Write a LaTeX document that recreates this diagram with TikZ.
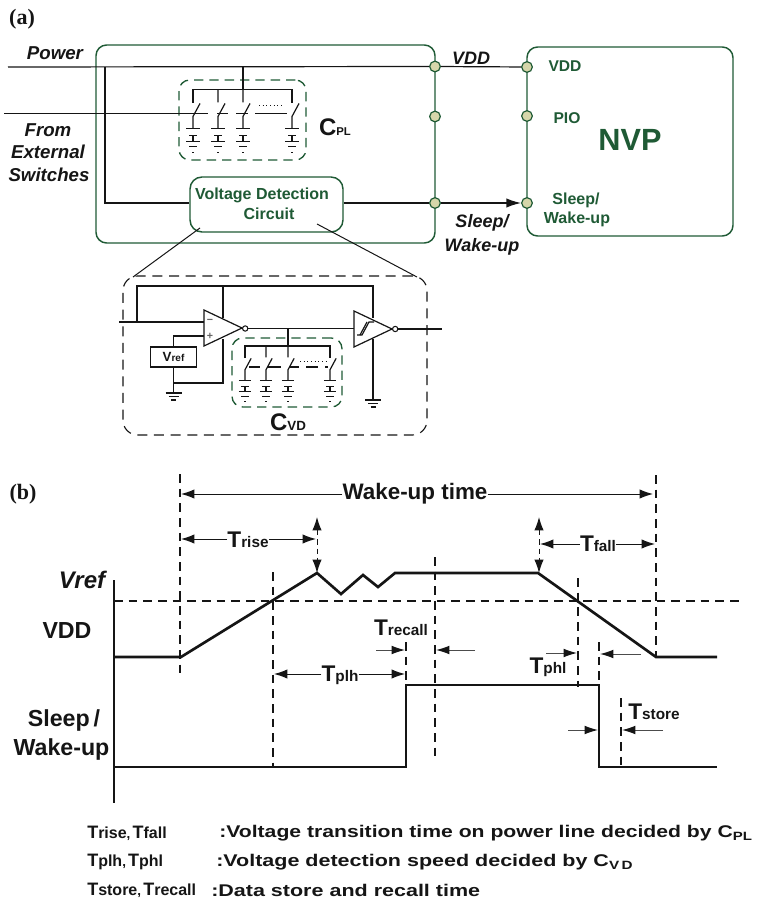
\documentclass[tikz,border=0pt]{standalone}
\usepackage{fontspec}
\usepackage{graphicx}
\setmainfont{Liberation Serif}
\setsansfont{Liberation Sans}
\usetikzlibrary{arrows.meta}
\definecolor{dgreen}{HTML}{1F5A35}
\definecolor{dotfill}{HTML}{D6D6AA}
\definecolor{ink}{HTML}{151515}
\newcommand\fsz[1]{\fontsize{#1}{#1}\selectfont}
\newcommand\TT[2][17]{{\fsz{#1}T}{\fsz{11.5}#2}}
\newcommand\TTs[1]{{\fsz{13.5}T}{\fsz{12}#1}}
\newcommand\lowsub[1]{\raisebox{-2pt}{\fsz{9}#1}}
\newcommand\wide[1]{\scalebox{1.27}[1]{#1}}
\newcommand\widea[1]{\scalebox{1.25}[1]{#1}}
% switch + capacitor stack: x, comb y, scale
\newcommand\swcell[3]{%
  \draw[wire] (#1,#2) -- ++(0,{13*#3}) ++({7*#3},{1*#3}) -- ++({-7*#3},{13*#3}) -- ++(0,{12*#3});
  \draw[wire] ({#1-7*#3},{#2+39*#3}) -- ({#1+7*#3},{#2+39*#3});
  \draw[wire] ({#1-4*#3},{#2+46*#3}) -- ({#1+4*#3},{#2+46*#3});
  \draw[wire] (#1,{#2+46*#3}) -- (#1,{#2+52*#3});
  \draw[wire] ({#1-7*#3},{#2+52*#3}) -- ({#1+7*#3},{#2+52*#3});
  \draw[wire] ({#1-4*#3},{#2+57*#3}) -- ({#1+4*#3},{#2+57*#3});
  \draw[wire] ({#1-1*#3},{#2+63*#3}) -- ({#1+1*#3},{#2+63*#3});
}
\newcommand\gnd[2]{%
  \draw[wire] (#1-8,#2) -- (#1+8,#2);
  \draw[wire] (#1-5,#2+3.5) -- (#1+5,#2+3.5);
  \draw[wire] (#1-2.5,#2+7) -- (#1+2.5,#2+7);
}
\tikzset{
  x=0.75pt,y=-0.75pt,
  wire/.style={draw=ink,line width=0.9pt},
  thinw/.style={draw=ink,line width=0.75pt},
  heavy/.style={draw=ink,line width=2pt,line join=miter},
  grayw/.style={draw=black!70,line width=0.75pt},
  gbox/.style={draw=dgreen,line width=1.1pt,rounded corners=8pt,inner sep=0pt},
  gdash/.style={draw=dgreen,line width=1pt,rounded corners=8pt,dash pattern=on 7pt off 4.5pt,inner sep=0pt},
  kdash/.style={draw=ink,line width=0.8pt,dash pattern=on 6.5pt off 4.5pt},
  port/.style={circle,draw=dgreen,fill=dotfill,line width=0.9pt,minimum size=8pt,inner sep=0pt},
  lab/.style={font=\sffamily\bfseries,text=ink,inner sep=0pt},
  glab/.style={font=\sffamily\bfseries,text=dgreen,inner sep=0pt},
  ilab/.style={font=\sffamily\bfseries\itshape,text=ink,inner sep=0pt},
  arr/.style={thinw,-{Latex[length=10pt,width=7pt]}},
  garr/.style={grayw,-{Latex[length=10pt,width=6.5pt,color=ink]}},
  garrb/.style={thinw,{Latex[length=10pt,width=7pt]}-{Latex[length=10pt,width=7pt]},dash pattern=on 4pt off 3pt},
}
\begin{document}
\begin{tikzpicture}
\useasboundingbox (0,0) rectangle (758,902);
% ---------- (a)
\node[font=\rmfamily\bfseries\fsz{16.5},text=ink,inner sep=0pt] (tagA) at (22,19) {(a)};
\node[gbox,minimum width=254.25pt,minimum height=148.5pt] (main) at (265.5,144) {};
\node[gbox,minimum width=154.5pt,minimum height=141.75pt] (nvp) at (630,141.5) {};
\node[gbox,minimum width=114.75pt,minimum height=41.25pt,rounded corners=9pt,fill=white] (vd) at (266.5,204.5) {};
\node[glab,font=\sffamily\bfseries\fsz{12}] (vdA) at (262,195) {Voltage Detection};
\node[glab,font=\sffamily\bfseries\fsz{12}] (vdB) at (269,213.5) {Circuit};
\node[gdash,minimum width=95.25pt,minimum height=60pt] (cpl) at (242.5,120) {};
% ports
\node[port] (pL1) at (435,66.5) {};
\node[port] (pL2) at (435,116.5) {};
\node[port] (pL3) at (435,203) {};
\node[port] (pR1) at (527,67) {};
\node[port] (pR2) at (527,116) {};
\node[port] (pR3) at (527,203) {};
% wires
\coordinate (pwrIn) at (8,67);
\coordinate (tap) at (105,67);
\coordinate (tapB) at (105,203);
\coordinate (tapC) at (243,67);
\draw[wire] (pwrIn) -- (pL1) -- (pR1);
\draw[wire] (tap) -- (tapB) -- (vd.west |- tapB);
\draw[wire] (vd.east |- pL3) -- (pL3);
\draw[wire,line width=1pt,-{Latex[length=11pt,width=7pt]}] (pL3) -- (pR3);
% C_PL
\draw[wire] (tapC) -- (243,89.5);
\draw[wire] (193,103) -- (193,89.5) -- (292,89.5) -- (292,103);
\foreach \xx in {193,218,243,292} {\swcell{\xx}{89.5}{1}}
\draw[wire] (4,113.5) -- (208,113.5);
\draw[wire] (217,113.5) -- (228,113.5);
\draw[wire] (236,113.5) -- (248,113.5);
\draw[wire] (255,113.5) -- (287,113.5);
\draw[thinw,dotted] (259,106) -- (283,106);
% texts (a)
\node[ilab,font=\sffamily\bfseries\itshape\fsz{14}] (tPower) at (55,53) {Power};
\node[ilab,font=\sffamily\bfseries\itshape\fsz{14}] (tFrom) at (48,130) {From};
\node[ilab,font=\sffamily\bfseries\itshape\fsz{14}] (tExt) at (48,152) {External};
\node[ilab,font=\sffamily\bfseries\itshape\fsz{14}] (tSw) at (49,175) {Switches};
\node[lab] (tCPL) at (335,127) {{\fsz{18}C}{\fsz{8.5}PL}};
\node[ilab,font=\sffamily\bfseries\itshape\fsz{13.5}] (tVDD) at (471,58) {VDD};
\node[ilab,font=\sffamily\bfseries\itshape\fsz{13.5}] (tSl) at (482,223) {Sleep/};
\node[ilab,font=\sffamily\bfseries\itshape\fsz{13.5}] (tWk) at (482,247) {Wake-up};
\node[glab,font=\sffamily\bfseries\fsz{11.7}] (nV) at (565,66) {VDD};
\node[glab,font=\sffamily\bfseries\fsz{11.7}] (nP) at (567,118) {PIO};
\node[glab,font=\sffamily\bfseries\fsz{23}] (nN) at (630,140) {NVP};
\node[glab,font=\sffamily\bfseries\fsz{12}] (nS) at (576,200) {Sleep/};
\node[glab,font=\sffamily\bfseries\fsz{12}] (nW) at (577,219) {Wake-up};
% zoom box
\node[draw=ink,line width=0.85pt,rounded corners=11pt,dash pattern=on 7.5pt off 5pt,inner sep=0pt,minimum width=228pt,minimum height=119.25pt] (zoomb) at (275,355.5) {};
\coordinate (zA) at (200,228);
\coordinate (zB) at (133,277);
\coordinate (zC) at (317,224);
\coordinate (zD) at (417,277);
\draw[thinw] (zA) -- (zB);
\draw[thinw] (zC) -- (zD);
% comparator
\coordinate (inL) at (119,322);
\coordinate (opI) at (204,322);
\draw[wire] (137,322) -- (137,286) -- (373,286) -- (373,318);
\draw[wire] (223,286) -- (223,318);
\draw[wire] (inL) -- (opI);
\node[draw=ink,line width=1pt,minimum width=34.5pt,minimum height=15pt,inner sep=0pt] (vref) at (173.5,357) {};
\node[lab] (tVref) at (173.5,356.5) {{\fsz{10}V}{\fsz{7.5}ref}};
\coordinate (plusin) at (204,336);
\draw[wire] (vref.north) -- (vref.north |- plusin) -- (plusin);
\draw[wire] (vref.south) -- (173.5,393);
\draw[wire] (173.5,383) -- (223,383) -- (223,339);
\gnd{173.5}{393}
\draw[wire,fill=white] (204,310) -- (242,328) -- (204,346) -- cycle;
\node[circle,draw=ink,line width=0.8pt,minimum size=4pt,inner sep=0pt,fill=white] (b1) at (245.2,328.5) {};
\node[text=black!60,inner sep=0pt,font=\sffamily\bfseries\fsz{8}] (minus) at (210,321.5) {−};
\node[text=black!60,inner sep=0pt,font=\sffamily\bfseries\fsz{8}] (plus) at (210,336) {+};
\draw[wire,fill=white] (354,311) -- (392,329) -- (354,347) -- cycle;
\draw[wire] (357,335) -- (362,335) -- (369,322) -- (374,322);
\draw[wire] (360,335) -- (367,322);
\node[circle,draw=ink,line width=0.8pt,minimum size=4pt,inner sep=0pt,fill=white] (b2) at (395.2,329) {};
\coordinate (sch2) at (354,328.5);
\coordinate (outR) at (442,329);
\draw[wire] (b1) -- (sch2);
\draw[wire] (b2) -- (outR);
\draw[wire] (373,339) -- (373,400);
\gnd{373}{400}
% C_VD
\node[gdash,minimum width=82.5pt,minimum height=51.75pt] (cvd) at (287,372.5) {};
\draw[wire] (288,328.5) -- (288,346);
\draw[wire] (245,358) -- (245,346) -- (330,346) -- (330,358);
\foreach \xx in {245,266,288,330} {\swcell{\xx}{346}{0.88}}
\draw[wire] (249,367) -- (260,367);
\draw[wire] (268,367) -- (281,367);
\draw[wire] (290,367) -- (299,367);
\draw[wire] (306,367) -- (318,367);
\draw[wire] (325,367) -- (328,367);
\draw[thinw,dotted] (300,361) -- (326,361);
\node[lab] (tCVD) at (288,422) {{\fsz{18}C}{\fsz{10}VD}};
% ---------- (b)
\node[font=\rmfamily\bfseries\fsz{16.5},text=ink,inner sep=0pt] (tagB) at (23,494) {(b)};
\coordinate (ax0) at (114,580);
\coordinate (ax1) at (114,803);
\draw[wire] (ax0) -- (ax1);
% dashed guides
\draw[kdash] (114,601) -- (742,601);
\draw[kdash] (180,474) -- (180,674);
\draw[kdash] (273,572) -- (273,767);
\draw[kdash] (435,557) -- (435,762);
\draw[kdash] (578,578) -- (578,687);
\draw[kdash] (656,475) -- (656,657);
\draw[kdash] (406,642) -- (406,685);
\draw[kdash] (599,642) -- (599,685);
\draw[kdash] (621,698) -- (621,767);
% waveforms
\coordinate (vS) at (114,657);
\coordinate (vE) at (717,657);
\draw[heavy] (vS) -- (181,657) -- (317,573) -- (341,594) -- (363,575) -- (378,587) -- (395,573) -- (538,573) -- (656,657) -- (vE);
\coordinate (sS) at (114,767);
\coordinate (sE) at (717,767);
\draw[heavy] (sS) -- (406,767) -- (406,685) -- (599,685) -- (599,767) -- (sE);
% double arrows on peaks
\coordinate (pk1t) at (317,517);
\coordinate (pk1b) at (317,573);
\coordinate (pk2t) at (539,517);
\coordinate (pk2b) at (539,573);
\draw[garrb] (pk1t) -- (pk1b);
\draw[garrb] (pk2t) -- (pk2b);
% labels (b)
\node[ilab,font=\sffamily\bfseries\itshape\fsz{18}] (bVref) at (82,580) {Vref};
\node[lab,font=\sffamily\bfseries\fsz{17.4}] (bVDD) at (67,631) {VDD};
\node[lab,font=\sffamily\bfseries\fsz{17.4}] (bSl) at (64,720) {Sleep\,/};
\node[lab,font=\sffamily\bfseries\fsz{17.4}] (bWk) at (61.5,749) {Wake-up};
\node[lab,font=\sffamily\bfseries\fsz{16.8}] (wake) at (415,494) {Wake-up time};
\node[lab] (trise) at (248,540) {\TT{rise}};
\node[lab] (tfall) at (598,544) {\TT{fall}};
\node[lab] (tplh) at (340,675) {\TT{plh}};
\node[lab] (trecall) at (401,628) {\TT{recall}};
\node[lab] (tphl) at (548,667) {\TT{phl}};
\node[lab] (tstore) at (654,712) {\TT{store}};
\coordinate (wL) at (181,494); \coordinate (wR) at (653,494);
\draw[arr] (wake.west) -- (wL);
\draw[arr] (wake.east) -- (wR);
\coordinate (rL) at (181,539); \coordinate (rR) at (316,539);
\draw[arr] (trise.west |- rL) -- (rL);
\draw[arr] (trise.east |- rR) -- (rR);
\coordinate (fL) at (540,544); \coordinate (fR) at (655,544);
\draw[arr] (tfall.west) -- (fL);
\draw[arr] (tfall.east) -- (fR);
\coordinate (pL) at (274,674); \coordinate (pR) at (405,674);
\draw[arr] (tplh.west |- pL) -- (pL);
\draw[arr] (tplh.east |- pR) -- (pR);
\draw[garr] (376,650) -- (405,650);
\draw[garr] (475,650) -- (436,650);
\draw[garr] (546,653) -- (577,653);
\draw[garr] (641,654) -- (600,654);
\draw[garr] (568,730) -- (598,730);
\draw[garr] (663,730) -- (622,730);
% legend
\node[lab,anchor=west] (l1a) at (87,833) {\TTs{rise},\,\TTs{fall}};
\node[lab,anchor=west] (l2a) at (87,862) {\TTs{plh},\,\TTs{phl}};
\node[lab,anchor=west] (l3a) at (87,890) {\TTs{store},\,\TTs{recall}};
\node[lab,anchor=west,font=\sffamily\bfseries\fsz{12.7}] (l1b) at (219,833) {\widea{:Voltage transition time on power line decided by C}\lowsub{\widea{PL}}};
\node[lab,anchor=west,font=\sffamily\bfseries\fsz{12.7}] (l2b) at (216,862) {\wide{:Voltage detection speed decided by C}\lowsub{\wide{V\,D}}};
\node[lab,anchor=west,font=\sffamily\bfseries\fsz{12.7}] (l3b) at (211,890) {\wide{:Data store and recall time}};
\end{tikzpicture}
\end{document}
